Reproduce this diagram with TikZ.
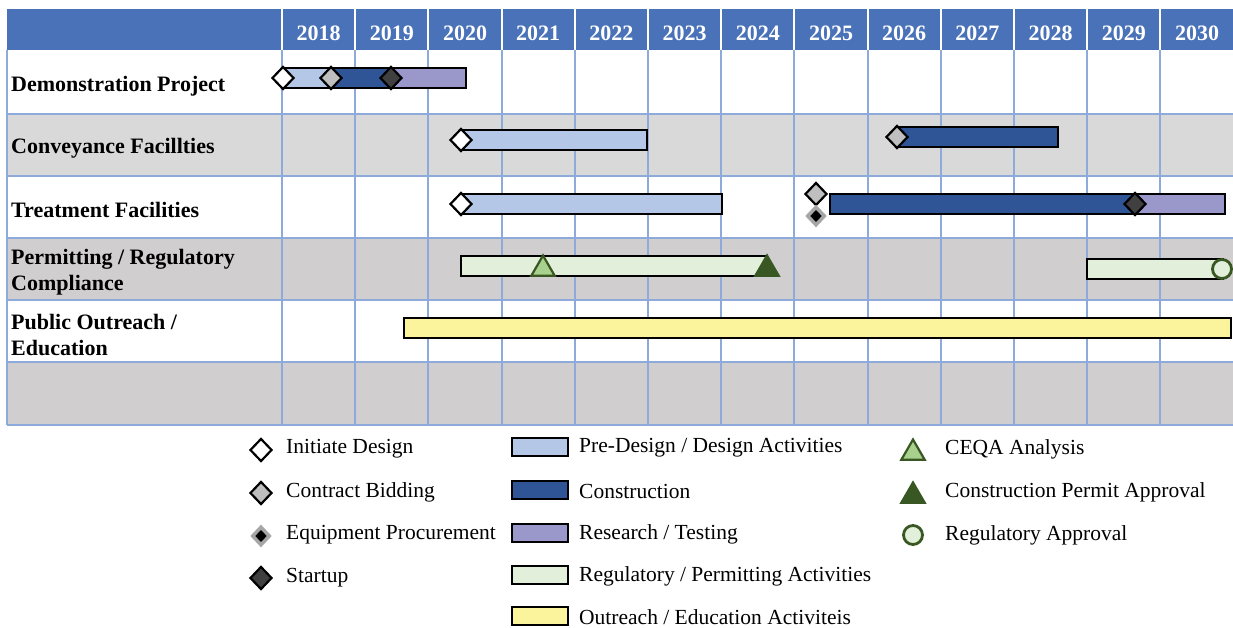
\documentclass[tikz,border=0pt]{standalone}
\usepackage{fontspec}
\setmainfont{Liberation Serif}
\usetikzlibrary{shapes.geometric}
\definecolor{headblue}{HTML}{4A72B8}
\definecolor{gridblue}{HTML}{8EAADB}
\definecolor{rowgray}{HTML}{D0CECE}
\definecolor{rowgraylt}{HTML}{DAD9D9}
\definecolor{designblue}{HTML}{B4C7E7}
\definecolor{buildblue}{HTML}{2F5597}
\definecolor{testpurple}{HTML}{9A97CB}
\definecolor{permitgreen}{HTML}{E2EFDA}
\definecolor{ceqagreen}{HTML}{A9D18E}
\definecolor{darkgreen}{HTML}{385723}
\definecolor{outreachyellow}{HTML}{FBF49C}
\definecolor{bidgray}{HTML}{BFBFBF}
\definecolor{startgray}{HTML}{404040}

\tikzset{
    bar/.style={draw=black, line width=1.6pt},
    milestone/.style={diamond, draw=black, line width=2.2pt, inner sep=0pt,
        minimum width=22pt, minimum height=23pt},
    initdia/.style={milestone, fill=white},
    biddia/.style={milestone, fill=bidgray},
    startdia/.style={milestone, fill=startgray},
    procdia/.style={milestone, fill=black, draw=black!35, line width=3.5pt,
        minimum width=18pt, minimum height=19pt},
    ceqatri/.style={regular polygon, regular polygon sides=3, draw=darkgreen,
        line width=2.2pt, fill=ceqagreen, inner sep=0pt, minimum size=27pt},
    permtri/.style={ceqatri, fill=darkgreen},
    regcirc/.style={circle, draw=darkgreen, line width=2.8pt, fill=permitgreen,
        inner sep=0pt, minimum size=19pt},
    rowlabel/.style={anchor=west, align=left, inner sep=0pt,
        font=\bfseries\fontsize{22}{26}\selectfont},
    yearlabel/.style={text=white, inner sep=0pt,
        font=\bfseries\fontsize{22}{26}\selectfont},
    keytext/.style={anchor=west, inner sep=0pt, font=\fontsize{21.5}{26}\selectfont},
}

\begin{document}
\begin{tikzpicture}[x=1pt, y=-1pt]
    \useasboundingbox (0,0) rectangle (1233,628);

    % shaded rows
    \fill[rowgraylt] (7,114) rectangle (1233,176);
    \fill[rowgray] (7,238) rectangle (1233,300);
    \fill[rowgray] (7,362) rectangle (1233,425);

    % grid
    \foreach \y in {114,176,238,300,362,425}
        \draw[gridblue, line width=2pt] (7,\y) -- (1233,\y);
    \foreach \i in {0,...,13}
        \draw[gridblue, line width=2pt] (282+73.2*\i,50) -- (282+73.2*\i,425);
    \draw[gridblue, line width=2pt] (7,50) -- (7,425);

    % header with the years
    \fill[headblue] (7,9) rectangle (1233,50);
    \foreach \yr [count=\i from 0] in {2018,...,2030} {
        \draw[white, line width=2pt] (282+73.2*\i,9) -- (282+73.2*\i,50);
        \node[yearlabel] (y\yr) at (318.6+73.2*\i,33) {\yr};
    }

    % tasks
    \foreach \y/\name/\txt in {
        86/demo/Demonstration Project,
        148/conv/Conveyance Facillties,
        210/treat/Treatment Facilities,
        272/permit/{Permitting / Regulatory\\Compliance},
        335/outreach/{Public Outreach /\\Education}}
        \node[rowlabel] (\name) at (11,\y) {\txt};

    % bars: start/end/middle/colour
    \foreach \a/\b/\y/\c in {
        283/331/78/designblue, 331/391/78/buildblue, 391/466/78/testpurple,
        461/647/140/designblue, 897/1058/137/buildblue,
        461/722/204/designblue, 830/1135/204/buildblue, 1135/1225/204/testpurple,
        461/767/266/permitgreen, 1087/1223/269/permitgreen,
        404/1231/328/outreachyellow}
        \draw[bar, fill=\c] (\a,\y-10) rectangle (\b,\y+10);

    % milestones
    \node[initdia] (demoinit) at (283,78) {};
    \node[biddia] (demobid) at (331,78) {};
    \node[startdia] (demostart) at (391,78) {};
    \node[initdia] (convinit) at (461,140) {};
    \node[biddia] (convbid) at (897,137) {};
    \node[initdia] (treatinit) at (461,204) {};
    \node[biddia] (treatbid) at (816,194) {};
    \node[procdia] (treatproc) at (816,216) {};
    \node[startdia] (treatstart) at (1135,204) {};
    \node[ceqatri] (ceqa) at (543,269) {};
    \node[permtri] (permok) at (767,269) {};
    \node[regcirc] (regok) at (1222,269) {};

    % key
    \node[initdia] (keyinit) at (261,450) {};
    \node[biddia] (keybid) at (261,493) {};
    \node[procdia] (keyproc) at (261,536) {};
    \node[startdia] (keystart) at (261,578) {};
    \foreach \y/\txt [count=\k] in {449/Initiate Design, 492/Contract Bidding,
        535/Equipment Procurement, 578/Startup}
        \node[keytext] (keym\k) at (286,\y) {\txt};

    \foreach \y/\c/\txt [count=\k] in {
        447/designblue/{Pre-Design / Design Activities},
        490/buildblue/Construction,
        533/testpurple/{Research / Testing},
        575/permitgreen/{Regulatory / Permitting Activities},
        616/outreachyellow/{Outreach / Education Activiteis}} {
        \draw[bar, fill=\c] (512,\y-9) rectangle (568,\y+9);
        \node[keytext] (keyb\k) at (579,\y+1) {\txt};
    }

    \node[ceqatri] (keyceqa) at (913,453) {};
    \node[permtri] (keypermit) at (913,496) {};
    \node[regcirc] (keyreg) at (913,535) {};
    \foreach \y/\txt [count=\k] in {449/CEQA Analysis,
        492/Construction Permit Approval, 535/Regulatory Approval}
        \node[keytext] (keyg\k) at (945,\y) {\txt};
\end{tikzpicture}
\end{document}
